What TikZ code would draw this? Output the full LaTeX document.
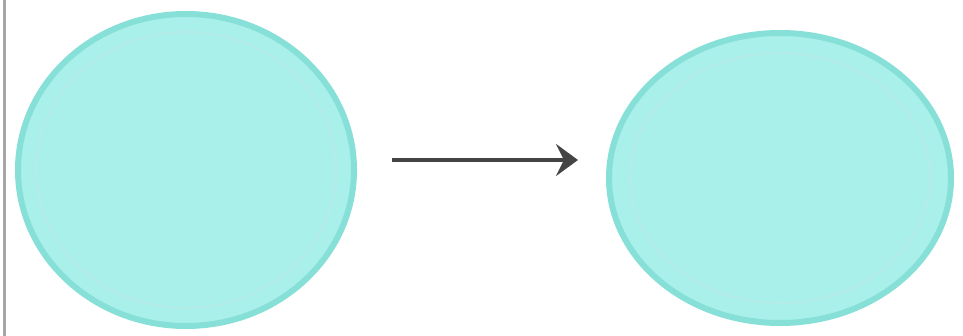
\documentclass[tikz,border=0pt]{standalone}
\usetikzlibrary{shapes.geometric,arrows.meta}
\definecolor{cellfill}{HTML}{A9F0EA}
\definecolor{celledge}{HTML}{86E0D8}
\definecolor{arrowgray}{HTML}{444444}
\tikzset{
  cell/.style={ellipse, fill=cellfill, draw=celledge, line width=6pt, inner sep=0pt},
  flow/.style={arrowgray, line width=3.5pt, -{Stealth[length=22pt,width=32pt,inset=8pt]}}
}
\begin{document}
\begin{tikzpicture}[x=1pt,y=-1pt]
  \useasboundingbox (0,0) rectangle (963,336);
  \fill[white] (0,0) rectangle (963,336);
  \draw[gray!70, line width=3pt] (4,0) -- (4,336);
  \node[cell, minimum width=336pt, minimum height=312pt] (a) at (186,170) {};
  \node[cell, minimum width=342pt, minimum height=290pt] (b) at (780,178) {};
  \draw[celledge!60, line width=2pt] (186,170) ellipse (150 and 138);
  \draw[celledge!60, line width=2pt] (780,178) ellipse (150 and 125);
  \coordinate (p) at (392,160);
  \coordinate (q) at (578,160);
  \draw[flow] (p) -- (q);
\end{tikzpicture}
\end{document}
